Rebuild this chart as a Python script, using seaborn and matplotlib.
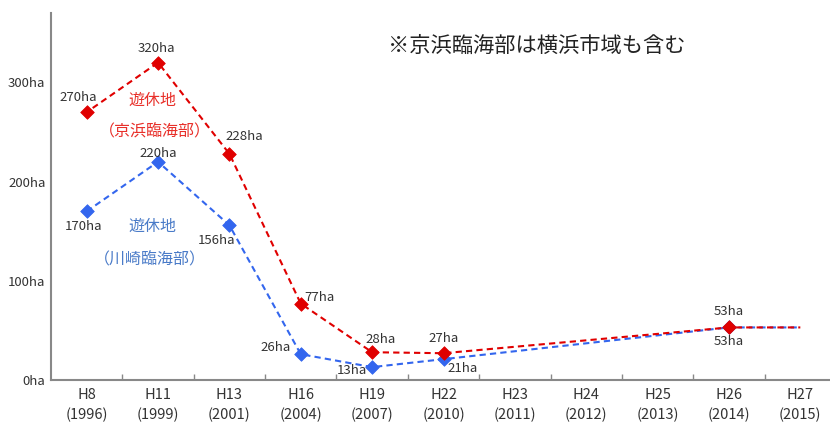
import seaborn as sns
import matplotlib.pyplot as plt
import pandas as pd
import numpy as np

# data (ha)
eras = ["H8", "H11", "H13", "H16", "H19", "H22", "H23", "H24", "H25", "H26", "H27"]
years = ["1996", "1999", "2001", "2004", "2007", "2010", "2011", "2012", "2013", "2014", "2015"]
keihin = [270, 320, 228, 77, 28, 27, np.nan, np.nan, np.nan, 53, 53]
kawasaki = [170, 220, 156, 26, 13, 21, np.nan, np.nan, np.nan, 53, 53]
keihin_labels = ["270ha", "320ha", "228ha", "77ha", "28ha", "27ha", "", "", "", "53ha", ""]
kawasaki_labels = ["170ha", "220ha", "156ha", "26ha", "13ha", "21ha", "", "", "", "53ha", ""]

# label offsets in pixels from each marker
keihin_off = [(-8, 15), (-2, 14), (15, 17), (19, 6), (8, 13), (0, 15), None, None, None, (0, 16), None]
kawasaki_off = [(-3, -15), (0, 8), (-13, -15), (-25, 7), (-20, -3), (19, -9), None, None, None, (0, -14), None]

RED = "#E00000"
BLUE = "#3366EE"

sns.set_theme(style="white")
plt.rcParams["font.family"] = ["Noto Sans CJK JP", "DejaVu Sans"]

df = pd.DataFrame({
    "idx": np.arange(len(eras)),
    "tick": [f"{e}\n({y})" for e, y in zip(eras, years)],
    "keihin": keihin,
    "kawasaki": kawasaki,
})
# H27 is drawn as a line end only, without marker
pts = df.iloc[:-1]

fig = plt.figure(figsize=(8.3, 4.26), dpi=100)
ax = fig.add_axes([51 / 830, 46 / 426, 785 / 830, 367 / 426])

line_df = df.dropna(subset=["kawasaki"])
sns.lineplot(data=line_df, x="idx", y="kawasaki", ax=ax, color=BLUE, lw=1.5,
             linestyle=(0, (3, 2)))
sns.scatterplot(data=pts.dropna(subset=["kawasaki"]), x="idx", y="kawasaki", ax=ax,
                color=BLUE, marker="D", s=48, edgecolor=BLUE, zorder=3)

line_df = df.dropna(subset=["keihin"])
sns.lineplot(data=line_df, x="idx", y="keihin", ax=ax, color=RED, lw=1.5,
             linestyle=(1.5, (3, 2)))
sns.scatterplot(data=pts.dropna(subset=["keihin"]), x="idx", y="keihin", ax=ax,
                color=RED, marker="D", s=48, edgecolor=RED, zorder=4)

for i, (v, lab, off) in enumerate(zip(keihin, keihin_labels, keihin_off)):
    if lab:
        ax.annotate(lab, (i, v), xytext=off, textcoords="offset pixels",
                    ha="center", va="center", fontsize=9.5, color="#333333")
for i, (v, lab, off) in enumerate(zip(kawasaki, kawasaki_labels, kawasaki_off)):
    if lab:
        ax.annotate(lab, (i, v), xytext=off, textcoords="offset pixels",
                    ha="center", va="center", fontsize=9.5, color="#333333")

ax.text(0.92, 282, "遊休地", color="#E8302A", fontsize=11.5, ha="center", va="center")
ax.text(0.95, 250, "（京浜臨海部）", color="#E8302A", fontsize=11.5, ha="center", va="center")
ax.text(0.92, 155, "遊休地", color="#4A7BC8", fontsize=11.5, ha="center", va="center")
ax.text(0.88, 121, "（川崎臨海部）", color="#4A7BC8", fontsize=11.5, ha="center", va="center")
ax.text(6.3, 337, "※京浜臨海部は横浜市域も含む", color="#222222", fontsize=15.3,
        ha="center", va="center")

ax.set_xlim(-0.5, 10.5)
ax.set_ylim(0, 370)
ax.set_xticks(df["idx"])
ax.set_xticklabels(df["tick"], fontsize=10.5, color="#333333", linespacing=1.5)
ax.set_xticks(df["idx"][:-1] + 0.5, minor=True)
ax.set_yticks([0, 100, 200, 300])
ax.set_yticklabels(["0ha", "100ha", "200ha", "300ha"], fontsize=9.5, color="#333333")
ax.tick_params(axis="x", which="major", length=0, pad=6)
ax.tick_params(axis="y", which="major", length=0, pad=4)
ax.tick_params(axis="x", which="minor", direction="in", length=4, color="#888888", bottom=True)
ax.set_xlabel("")
ax.set_ylabel("")
sns.despine(ax=ax)
for s in ["left", "bottom"]:
    ax.spines[s].set_color("#888888")
    ax.spines[s].set_linewidth(1.5)

fig.savefig("out.png", dpi=100)
